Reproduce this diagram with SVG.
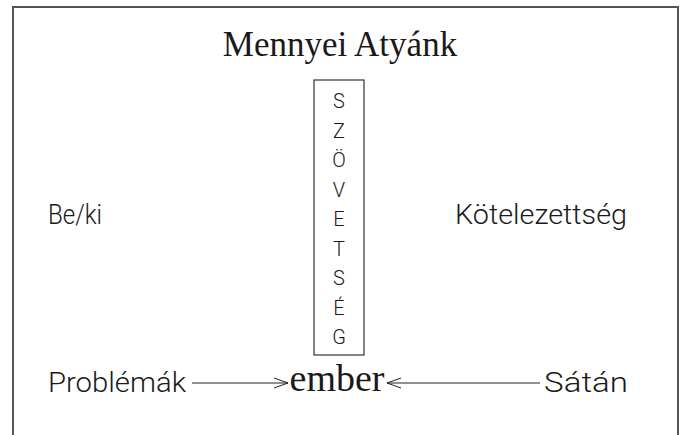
<svg xmlns="http://www.w3.org/2000/svg" width="681" height="435" viewBox="0 0 681 435">
<defs>
<style>
.serif{font-family:"Liberation Serif","Times New Roman",serif;fill:#1a1a1a}
.sans{font-family:Roboto,"Liberation Sans",Arial,sans-serif;font-weight:300;fill:#1a1a1a;font-size:28px}
.vert{font-family:Roboto,"Liberation Sans",Arial,sans-serif;font-weight:300;fill:#1a1a1a;font-size:20px;text-anchor:middle}
.frame{fill:none;stroke:#555;stroke-width:2}
.edge{fill:none;stroke:#222;stroke-width:1}
</style>
<marker id="open" viewBox="0 0 16 12" refX="15" refY="6" markerWidth="16" markerHeight="12" markerUnits="userSpaceOnUse" orient="auto">
<path d="M1,1 L15,6 L1,11" fill="none" stroke="#222" stroke-width="1"/>
</marker>
</defs>
<rect width="681" height="435" fill="#fff"/>
<path class="frame" d="M13,435 L13,7 L678,7 L678,435"/>
<g id="title"><text class="serif" x="340" y="56" font-size="35" text-anchor="middle">Mennyei Atyánk</text></g>
<g id="szovetseg">
<rect x="314" y="80" width="50" height="275" fill="none" stroke="#333" stroke-width="1.2"/>
<text class="vert" x="339" y="108">S</text>
<text class="vert" x="339" y="137.5">Z</text>
<text class="vert" x="339" y="167">Ö</text>
<text class="vert" x="339" y="196.5">V</text>
<text class="vert" x="339" y="226">E</text>
<text class="vert" x="339" y="255.5">T</text>
<text class="vert" x="339" y="285">S</text>
<text class="vert" x="339" y="314.5">É</text>
<text class="vert" x="339" y="344">G</text>
</g>
<g id="beki"><text class="sans" x="48" y="224" textLength="54" lengthAdjust="spacingAndGlyphs">Be/ki</text></g>
<g id="kotelezettseg"><text class="sans" x="455" y="224" textLength="172" lengthAdjust="spacingAndGlyphs">Kötelezettség</text></g>
<g id="problemak"><text class="sans" x="48" y="392" textLength="138" lengthAdjust="spacingAndGlyphs">Problémák</text></g>
<g id="ember"><text class="serif" x="337" y="391" font-size="38" text-anchor="middle">ember</text></g>
<g id="satan"><text class="sans" x="544" y="392" textLength="84" lengthAdjust="spacingAndGlyphs">Sátán</text></g>
<g id="connectors">
<line class="edge" x1="192" y1="383" x2="288" y2="383" marker-end="url(#open)"/>
<line class="edge" x1="540" y1="383" x2="387" y2="383" marker-end="url(#open)"/>
</g>
</svg>
